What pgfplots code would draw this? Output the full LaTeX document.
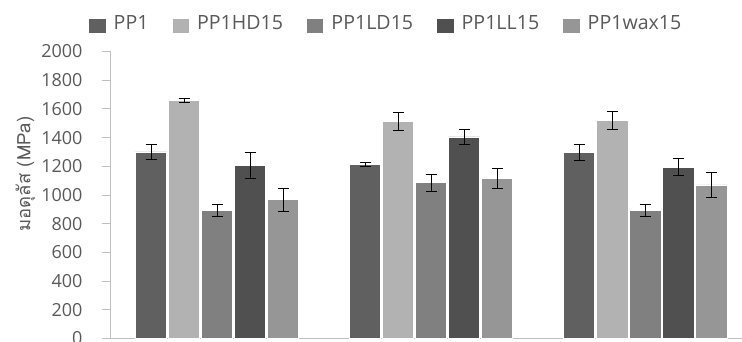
\documentclass[border=0pt]{standalone}
\usepackage{fontspec}
\setmainfont{Open Sans}
\newfontfamily\thaifont[Script=Thai]{Loma}
\usepackage{pgfplots}
\pgfplotsset{compat=1.18}
\definecolor{cA}{HTML}{606060}
\definecolor{cB}{HTML}{B2B2B2}
\definecolor{cC}{HTML}{808080}
\definecolor{cD}{HTML}{505050}
\definecolor{cE}{HTML}{969696}
\definecolor{txt}{HTML}{595959}
\definecolor{axl}{HTML}{BFBFBF}
\pgfplotsset{sqleg/.style={legend image code/.code={\fill[##1,draw=none] (0pt,-10pt) rectangle (16.5pt,4.3pt);}}}
\begin{document}
\begin{tikzpicture}
\useasboundingbox (0,0) rectangle (742pt,342pt);
\begin{axis}[
  at={(110pt,3.5pt)}, anchor=south west,
  scale only axis, width=632pt, height=287pt,
  xmin=-0.5, xmax=2.453, ymin=0, ymax=2000,
  ybar=1.5pt, bar width=0.1472,
  xtick=\empty,
  ytick={0,200,...,2000},
  axis x line*=bottom, axis y line*=left,
  axis line style={draw=axl, line width=0.9pt},
  y tick style={draw=axl, line width=0.9pt},
  tick align=outside, major tick length=8pt,
  ticklabel style={font=\fontsize{18}{21}\selectfont, text=txt},
  yticklabel style={xshift=-16pt},
  /pgf/number format/assume math mode=true,
  /pgf/number format/1000 sep={},
  ylabel={\thaifont\fontsize{18.5}{22}\selectfont มอดุลัส (MPa)},
  ylabel style={at={(axis description cs:-0.134,0.573)}, anchor=center, text=txt},
  legend style={at={(-0.0332,1.099)}, anchor=west, draw=none, fill=none, inner sep=0pt,
    font=\fontsize{19.6}{23}\selectfont, text=txt,
    /tikz/every odd column/.append style={column sep=6pt},
    /tikz/every even column/.append style={column sep=22pt}},
  legend columns=-1,
  every axis plot/.append style={draw=white, line width=0.6pt,
    /pgfplots/error bars/y dir=both, /pgfplots/error bars/y explicit,
    /pgfplots/error bars/error bar style={black, line width=0.9pt},
    /pgfplots/error bars/error mark options={rotate=90, mark size=5.5pt, black, line width=0.9pt}},
]
\addplot[fill=cA, sqleg] coordinates {(0,1300) +- (0,55) (1,1215) +- (0,15) (2,1297) +- (0,53)};
\addplot[fill=cB, sqleg] coordinates {(0,1660) +- (0,12) (1,1515) +- (0,63) (2,1520) +- (0,60)};
\addplot[fill=cC, sqleg] coordinates {(0,890) +- (0,42) (1,1085) +- (0,58) (2,890) +- (0,42)};
\addplot[fill=cD, sqleg] coordinates {(0,1205) +- (0,90) (1,1405) +- (0,55) (2,1195) +- (0,60)};
\addplot[fill=cE, sqleg] coordinates {(0,968) +- (0,80) (1,1115) +- (0,67) (2,1070) +- (0,85)};
\legend{PP1,PP1HD15,PP1LD15,PP1LL15,PP1wax15}
\end{axis}
\end{tikzpicture}
\end{document}
